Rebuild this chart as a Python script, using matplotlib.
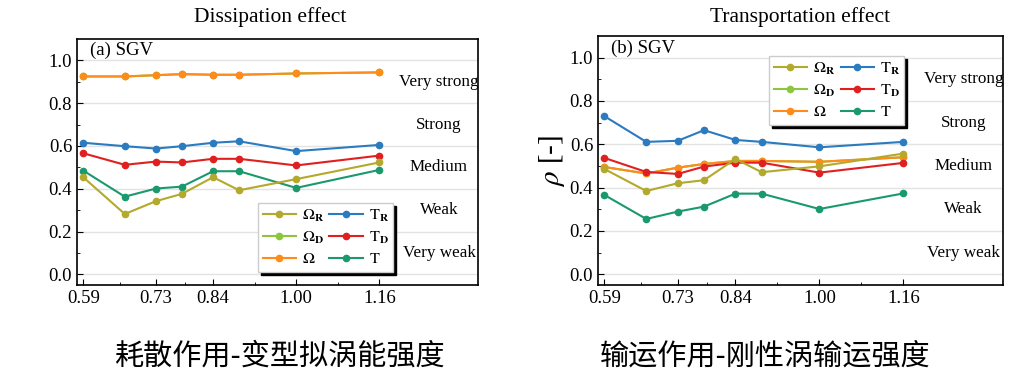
import matplotlib.pyplot as plt
from matplotlib.ticker import FixedLocator

plt.rcParams['font.family'] = ['Liberation Serif', 'DejaVu Serif']
plt.rcParams['mathtext.fontset'] = 'stix'

# Werte
x = [0.59, 0.67, 0.73, 0.78, 0.84, 0.89, 1.00, 1.16]
x_major = [0.59, 0.73, 0.84, 1.00, 1.16]
x_minor = [0.66, 0.785, 0.92, 1.08]

# (a) Dissipation
diss_omega_r = [0.454, 0.282, 0.342, 0.376, 0.454, 0.393, 0.445, 0.523]
diss_omega_d = [0.925, 0.925, 0.931, 0.936, 0.933, 0.933, 0.939, 0.944]
diss_omega = [0.925, 0.925, 0.931, 0.936, 0.933, 0.933, 0.939, 0.944]
diss_t_r = [0.615, 0.599, 0.588, 0.599, 0.615, 0.622, 0.576, 0.605]
diss_t_d = [0.566, 0.512, 0.527, 0.523, 0.540, 0.540, 0.509, 0.555]
diss_t = [0.485, 0.363, 0.401, 0.410, 0.482, 0.482, 0.404, 0.488]

# (b) Transportation
trans_omega_r = [0.486, 0.384, 0.420, 0.434, 0.532, 0.471, 0.498, 0.557]
trans_omega_d = [0.495, 0.465, 0.492, 0.509, 0.523, 0.523, 0.519, 0.540]
trans_omega = [0.495, 0.465, 0.492, 0.509, 0.523, 0.523, 0.519, 0.540]
trans_t_r = [0.730, 0.611, 0.616, 0.665, 0.620, 0.611, 0.586, 0.611]
trans_t_d = [0.537, 0.472, 0.463, 0.497, 0.515, 0.515, 0.469, 0.514]
trans_t = [0.366, 0.255, 0.289, 0.312, 0.372, 0.372, 0.301, 0.373]

levels = ['Very strong', 'Strong', 'Medium', 'Weak', 'Very weak']
level_y = [0.9, 0.7, 0.5, 0.3, 0.1]

colors = {
    'omega_r': '#b3a92c',
    'omega_d': '#8cc63e',
    'omega': '#ff8c1a',
    't_r': '#2a7bc0',
    't_d': '#e02020',
    't': '#1a9a6c',
}

fig = plt.figure(figsize=(10.24, 3.79), dpi=100)
ax1 = fig.add_axes([0.0752, 0.248, 0.3916, 0.649])
ax2 = fig.add_axes([0.584, 0.248, 0.3955, 0.657])


def draw(ax, series, panel, legend_pos):
    names = ['omega_r', 'omega_d', 'omega', 't_r', 't_d', 't']
    labels = [r'$\Omega_\mathbf{R}$', r'$\Omega_\mathbf{D}$', r'$\Omega$',
              r'$\mathrm{T}_\mathbf{R}$', r'$\mathrm{T}_\mathbf{D}$', r'$\mathrm{T}$']
    lines = {}
    # Omega_D zuerst, liegt unter Omega
    for name in ['omega_d', 'omega', 't_r', 't_d', 't', 'omega_r']:
        lines[name], = ax.plot(x, series[name], color=colors[name], marker='o',
                               markersize=4.5, linewidth=1.5)
    ax.set_xlim(0.578, 1.35)
    ax.set_ylim(-0.05, 1.10)
    ax.xaxis.set_major_locator(FixedLocator(x_major))
    ax.xaxis.set_minor_locator(FixedLocator(x_minor))
    ax.set_xticklabels(['0.59', '0.73', '0.84', '1.00', '1.16'])
    ax.set_yticks([0.0, 0.2, 0.4, 0.6, 0.8, 1.0])
    ax.yaxis.set_minor_locator(FixedLocator([0.1, 0.3, 0.5, 0.7, 0.9]))
    ax.tick_params(which='both', direction='in', labelsize=13.5)
    ax.tick_params(which='major', length=4)
    ax.tick_params(which='minor', length=2.5)
    ax.grid(axis='y', color='#e3e3e3', linewidth=1)
    ax.set_axisbelow(True)
    for s in ax.spines.values():
        s.set_linewidth(1.2)
    for lab, yv in zip(levels, level_y):
        ax.text(1.275, yv, lab, ha='center', va='center', fontsize=12.3)
    ax.text(0.032, 0.952, panel, transform=ax.transAxes, ha='left', va='center',
            fontsize=13.5)
    ax.legend([lines[n] for n in names], labels, ncol=2, loc='upper left',
              bbox_to_anchor=legend_pos, fontsize=11.5, fancybox=False,
              edgecolor='#cccccc', framealpha=1,
              shadow={'color': 'black', 'alpha': 1},
              handlelength=2.1, columnspacing=0.35, labelspacing=0.35,
              handletextpad=0.35, borderpad=0.3, borderaxespad=0)


draw(ax1, {'omega_r': diss_omega_r, 'omega_d': diss_omega_d, 'omega': diss_omega,
           't_r': diss_t_r, 't_d': diss_t_d, 't': diss_t},
     '(a) SGV', (0.451, 0.333))
draw(ax2, {'omega_r': trans_omega_r, 'omega_d': trans_omega_d, 'omega': trans_omega,
           't_r': trans_t_r, 't_d': trans_t_d, 't': trans_t},
     '(b) SGV', (0.422, 0.92))

ax2.set_ylabel(r'$\rho$ [-]', fontsize=21, labelpad=2)

fig.text(0.264, 0.955, 'Dissipation effect', ha='center', va='center', fontsize=15.5)
fig.text(0.781, 0.955, 'Transportation effect', ha='center', va='center', fontsize=15.5)

fig.text(0.274, 0.06, '耗散作用-变型拟涡能强度', ha='center', va='center',
         fontsize=21, family=['Noto Sans CJK SC', 'DejaVu Sans'])
fig.text(0.747, 0.06, '输运作用-刚性涡输运强度', ha='center', va='center',
         fontsize=21, family=['Noto Sans CJK SC', 'DejaVu Sans'])

fig.savefig('out.png', dpi=100)
